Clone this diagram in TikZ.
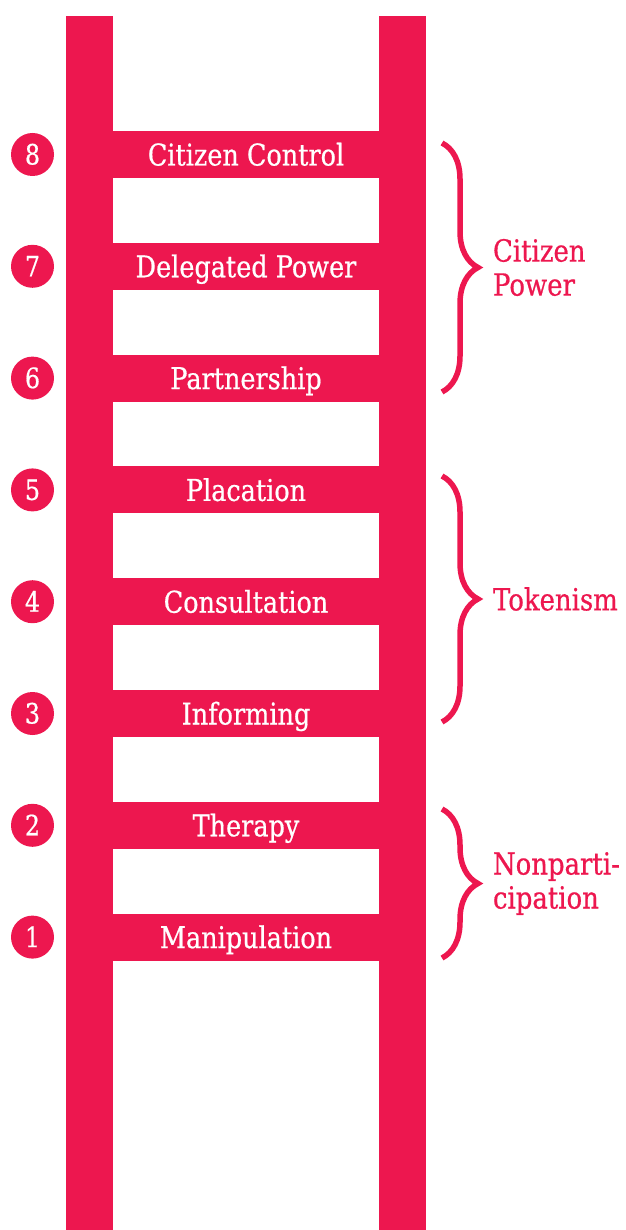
\documentclass[tikz,border=0pt]{standalone}
\usepackage{fontspec}
\setmainfont{DejaVu Serif}[FakeStretch=0.85, FakeBold=0.6]
\usepackage{tikz}
\usetikzlibrary{positioning}
\usetikzlibrary{decorations.pathreplacing}

\definecolor{LadderRed}{RGB}{237,23,79}

\begin{document}
\begin{tikzpicture}[
	x=1pt, y=-1pt,
	outer sep=0pt,
	rail/.style={fill=LadderRed, inner sep=0pt, minimum width=47pt, minimum height=1214pt, anchor=north west},
	rung/.style={fill=LadderRed, text=white, inner sep=0pt, minimum width=280pt, minimum height=47pt,
		text height=22pt, text depth=0pt, font=\fontsize{30}{32}\selectfont},
	stepnum/.style={circle, fill=LadderRed, text=white, inner sep=0pt, minimum size=43pt,
		text height=20pt, text depth=0pt, font=\fontsize{28}{30}\selectfont},
	groupbrace/.style={draw=LadderRed, line width=5.5pt, decorate, decoration={brace, amplitude=36pt}},
	grouplabel/.style={text=LadderRed, inner sep=0pt, align=left, font=\fontsize{30.5}{34}\selectfont}
]

\useasboundingbox (0,0) rectangle (625,1230);

\node[rail] (leftRail) at (66,16) {};
\node[rail] (rightRail) at (379,16) {};

% ---

\node[rung] (rung8) at (246,154.5) {Citizen Control};
\node[rung, below=64.8pt of rung8] (rung7) {Delegated Power};
\node[rung, below=64.8pt of rung7] (rung6) {Partnership};
\node[rung, below=64.8pt of rung6] (rung5) {Placation};
\node[rung, below=64.8pt of rung5] (rung4) {Consultation};
\node[rung, below=64.8pt of rung4] (rung3) {Informing};
\node[rung, below=64.8pt of rung3] (rung2) {Therapy};
\node[rung, below=64.8pt of rung2] (rung1) {Manipulation};

% ---

\foreach \k in {1,...,8}{
	\node[stepnum, left=52pt of rung\k] (num\k) {\k};
}

% ---

\coordinate (powerTop) at (442,143);
\coordinate (powerBot) at (442,392);
\coordinate (tokenTop) at (442,476);
\coordinate (tokenBot) at (442,722);
\coordinate (nonTop) at (442,809);
\coordinate (nonBot) at (442,958);

\draw[groupbrace] (powerTop) -- (powerBot) coordinate[midway] (powerMid);
\draw[groupbrace] (tokenTop) -- (tokenBot) coordinate[midway] (tokenMid);
\draw[groupbrace] (nonTop) -- (nonBot) coordinate[midway] (nonMid);

\node[grouplabel, right=51pt of powerMid] (power) {Citizen\\Power};
\node[grouplabel, right=51pt of tokenMid] (token) {Tokenism};
\node[grouplabel, right=51pt of nonMid] (nonpart) {Nonparti-\\cipation};

\end{tikzpicture}
\end{document}
